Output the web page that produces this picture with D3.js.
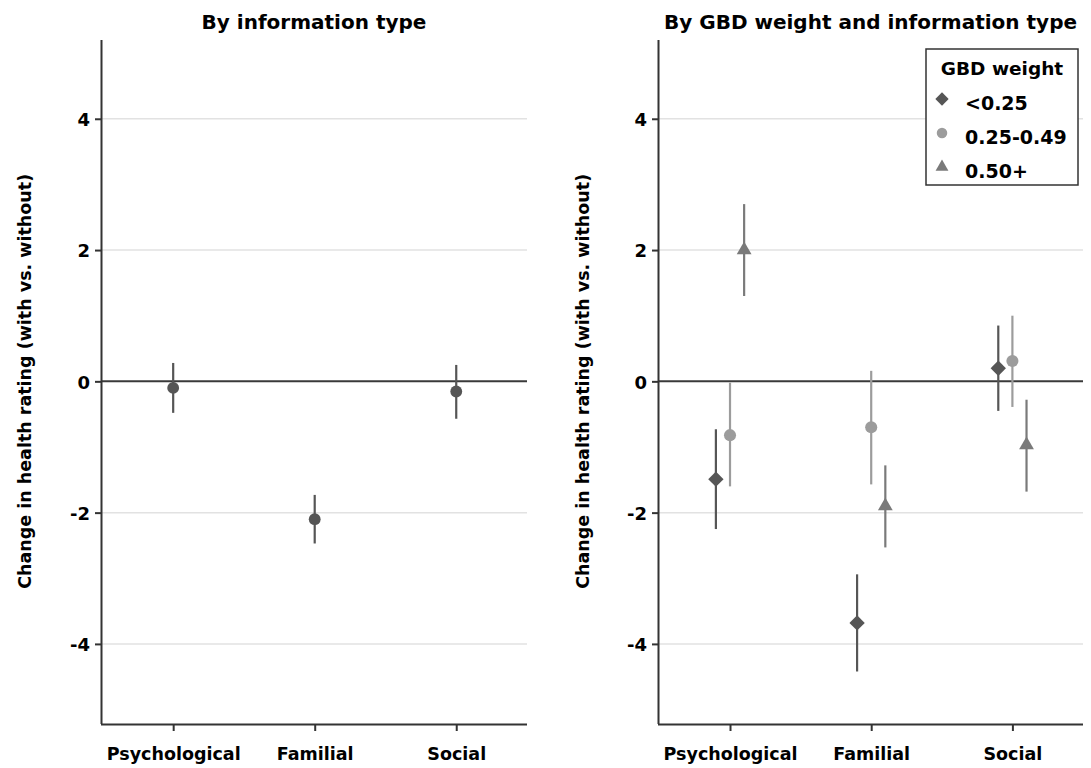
<!DOCTYPE html>
<html><head><meta charset="utf-8">
<script src="https://cdn.jsdelivr.net/npm/d3@7"></script>
<style>body{margin:0;background:#fff}svg{display:block}text{font-family:"DejaVu Sans",sans-serif;font-weight:bold}</style>
</head><body>
<script>
const categories = ["Psychological","Familial","Social"];
// Panel 1: by information type
const overallMean = [-0.10, -2.10, -0.155];
const overallLo   = [-0.48, -2.47, -0.57];
const overallHi   = [ 0.28, -1.73,  0.25];
// Panel 2: by GBD weight
const groups = ["<0.25","0.25-0.49","0.50+"];
const lowMean  = [-1.49, -3.68, 0.20];
const lowLo    = [-2.25, -4.42, -0.45];
const lowHi    = [-0.73, -2.94, 0.85];
const midMean  = [-0.82, -0.70, 0.31];
const midLo    = [-1.60, -1.57, -0.39];
const midHi    = [-0.02, 0.16, 1.00];
const highMean = [2.00, -1.90, -0.97];
const highLo   = [1.30, -2.53, -1.68];
const highHi   = [2.70, -1.28, -0.28];
const yTicks = [-4,-2,0,2,4];
const titles = ["By information type","By GBD weight and information type"];
const yTitle = "Change in health rating (with vs. without)";
const legendTitle = "GBD weight";

const W=1091,H=768;
const FONT='"DejaVu Sans", sans-serif';
const svg=d3.select("body").append("svg").attr("width",W).attr("height",H);
const y=d3.scaleLinear().domain([-5.22,5.2]).range([724,40]);

function panel(x0,x1,title,series,yTitleX){
  const x=d3.scaleLinear().domain([0.49,3.5]).range([x0,x1]);
  const g=svg.append("g");
  g.selectAll(".grid").data(yTicks.filter(d=>d!==0)).join("line")
    .attr("x1",x0).attr("x2",x1).attr("y1",d=>y(d)).attr("y2",d=>y(d))
    .attr("stroke","#e2e2e2").attr("stroke-width",1.5);
  g.append("line").attr("x1",x0).attr("x2",x1).attr("y1",y(0)).attr("y2",y(0))
    .attr("stroke","#3a3a3a").attr("stroke-width",2);
  const ya=g.append("g").attr("transform",`translate(${x0},0)`)
    .call(d3.axisLeft(y).tickValues(yTicks).tickSize(6).tickSizeOuter(0).tickFormat(d=>String(d)));
  const xa=g.append("g").attr("transform",`translate(0,724)`)
    .call(d3.axisBottom(x).tickValues([1,2,3]).tickSize(7).tickSizeOuter(0).tickFormat((d,i)=>categories[i]));
  [ya,xa].forEach(a=>{a.select(".domain").attr("stroke","#333").attr("stroke-width",2);
    a.selectAll(".tick line").attr("stroke","#333").attr("stroke-width",2);
    a.selectAll("text").attr("fill","#000").style("font-family",FONT).style("font-weight","bold");});
  ya.selectAll("text").attr("x",-11).attr("dy","0.38em").style("font-size","18px");
  xa.selectAll("text").attr("y",24).style("font-size","17.5px");
  ya.select(".domain").attr("d",`M0.5,40V724`);
  xa.select(".domain").attr("d",`M${x0},0.5H${x1}`);
  g.append("text").attr("x",(x0+x1)/2).attr("y",29).attr("text-anchor","middle")
    .style("font-size","20px").text(title);
  g.append("text").attr("transform",`translate(${yTitleX},${y(0)}) rotate(-90)`)
    .attr("text-anchor","middle").attr("dy","0.35em").style("font-size","17.5px").text(yTitle);
  series.forEach(s=>{
    categories.forEach((c,i)=>{
      const cx=x(i+1+s.off);
      g.append("line").attr("x1",cx).attr("x2",cx).attr("y1",y(s.lo[i])).attr("y2",y(s.hi[i]))
        .attr("stroke",s.color).attr("stroke-width",2.2);
      g.append("path").attr("transform",`translate(${cx},${y(s.mean[i])})`)
        .attr("d",d3.symbol().type(s.sym).size(s.size)()).attr("fill",s.color);
    });
  });
  return x;
}

panel(101,527,titles[0],[{mean:overallMean,lo:overallLo,hi:overallHi,off:0,color:"#555555",sym:d3.symbolCircle,size:110}],25);
const sym=[d3.symbolDiamond2,d3.symbolCircle,d3.symbolTriangle];
const cols=["#565656","#9c9c9c","#7a7a7a"];
const sizes=[150,115,95];
const rightSeries=[
  {mean:lowMean,lo:lowLo,hi:lowHi,off:-0.1,color:cols[0],sym:sym[0],size:sizes[0]},
  {mean:midMean,lo:midLo,hi:midHi,off:0,color:cols[1],sym:sym[1],size:sizes[1]},
  {mean:highMean,lo:highLo,hi:highHi,off:0.1,color:cols[2],sym:sym[2],size:sizes[2]}];
panel(658,1083,titles[1],rightSeries,583);

const lg=svg.append("g");
lg.append("rect").attr("x",926).attr("y",49).attr("width",152).attr("height",136)
  .attr("fill","#fff").attr("stroke","#333").attr("stroke-width",1.5);
lg.append("text").attr("x",1002).attr("y",75).attr("text-anchor","middle").style("font-size","18.5px").text(legendTitle);
groups.forEach((gname,i)=>{
  const yy=103+i*34;
  lg.append("path").attr("transform",`translate(942,${yy-4})`)
    .attr("d",d3.symbol().type(sym[i]).size(sizes[i]*0.75)()).attr("fill",cols[i]);
  lg.append("text").attr("x",965).attr("y",yy+7).style("font-size","19px").text(gname);
});
</script>
</body></html>
